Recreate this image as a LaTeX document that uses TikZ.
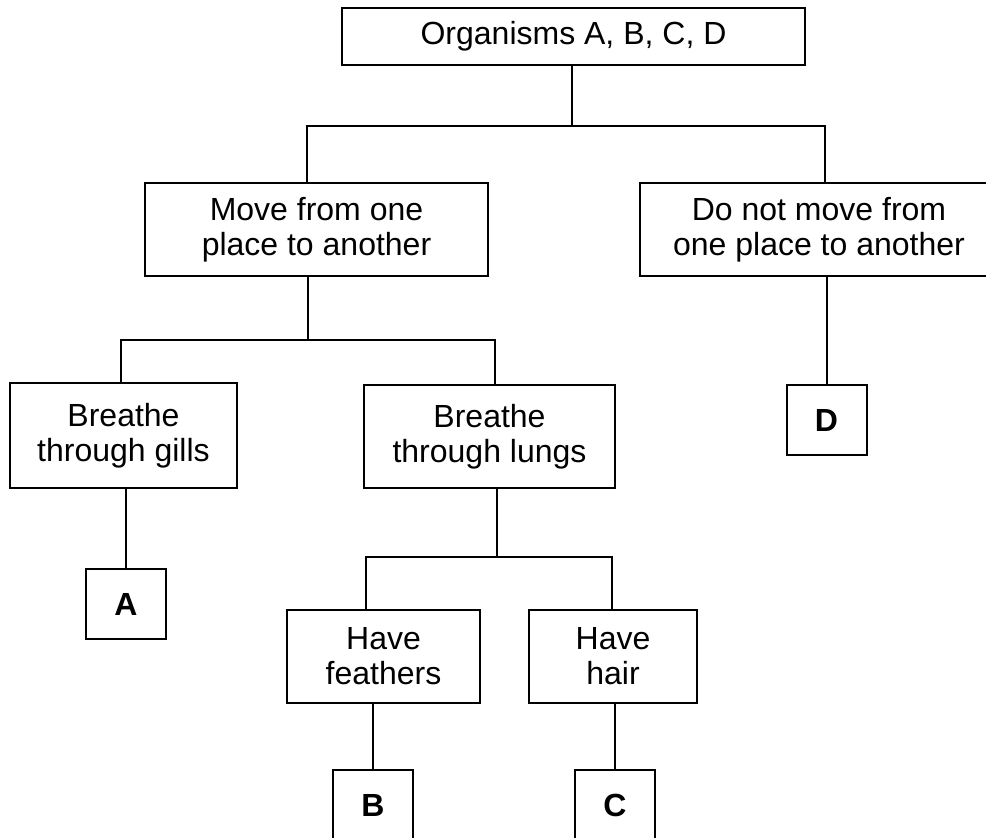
\documentclass[tikz,border=0pt]{standalone}
\usepackage{fontspec}
\setmainfont{Liberation Sans}
\begin{document}
\begin{tikzpicture}[x=0.5pt, y=-0.5pt]
	\tikzstyle{box} = [rectangle, draw, line width=1pt, inner sep=0pt, align=center, font=\fontsize{16}{17.5}\selectfont]
	\tikzstyle{leaf} = [box, minimum width=40pt, minimum height=35pt, font=\fontsize{16}{17.5}\selectfont\bfseries]
	\tikzstyle{link} = [line width=1pt]

	\useasboundingbox (0,0) rectangle (986,838);
	\clip (0,0) rectangle (986,838);

	\node[box, minimum width=231.5pt, minimum height=28.5pt] (org) at (573.5, 36.5) {Organisms A, B, C, D};

	\foreach \name/\x/\y/\w/\h/\txt in {move/316.5/229.5/171.5/46.5/{Move from one\\place to another},
			stay/819/230/179/46.5/{Do not move from\\one place to another},
			gills/123.5/435.5/113.5/52.5/{Breathe\\through gills},
			lungs/489.5/436.5/125.5/51.5/{Breathe\\through lungs},
			feathers/383.5/656.5/96.5/46.5/{Have\\feathers},
			hair/613/656.5/84/46.5/{Have\\hair}}
		\node[box, minimum width=\w pt, minimum height=\h pt] (\name) at (\x, \y) {\txt};

	%letters
	\foreach \name/\x/\y in {A/126/604, D/826.5/420, B/373/805, C/615/805}
		\node[leaf] (\name) at (\x, \y) {\name};

	\foreach \from/\to/\xa/\xb/\y in {org/move/572/307/126, org/stay/572/825/126, move/gills/308/121/340, move/lungs/308/495/340, lungs/feathers/497/366/557, lungs/hair/497/612/557}
		\draw[link] (\from.south -| \xa,0) |- (\xb,\y) -- (\to.north -| \xb,0);

	\foreach \from/\to in {gills/A, stay/D, feathers/B, hair/C}
		\draw[link] (\from.south -| \to.north) -- (\to.north);

\end{tikzpicture}
\end{document}
